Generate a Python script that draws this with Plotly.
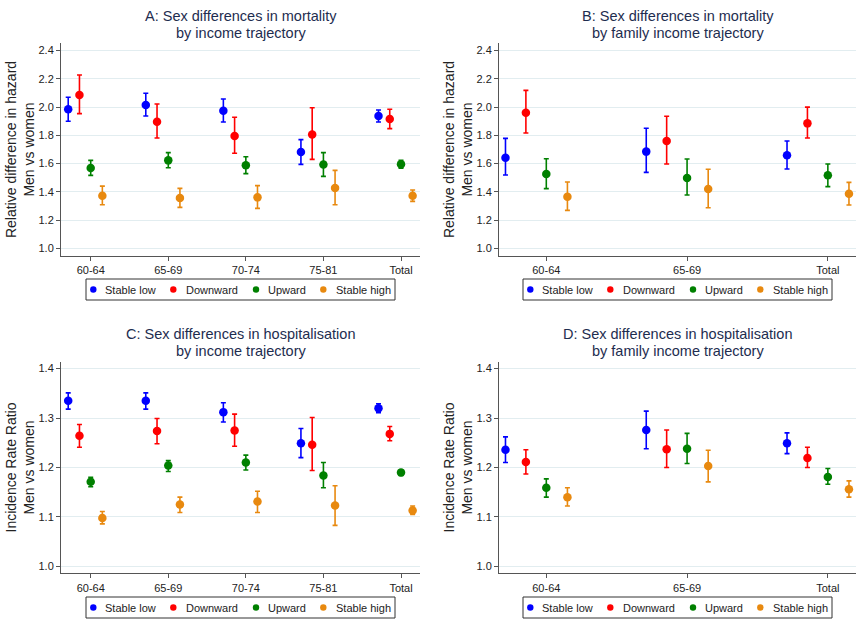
import plotly.graph_objects as go

# ---------------- data ----------------
series = ["Stable low", "Downward", "Upward", "Stable high"]
colors = ["#0000ff", "#ff0000", "#008000", "#e8890f"]
offsets = [-0.29, -0.145, 0.0, 0.15]

cats_income = ["60-64", "65-69", "70-74", "75-81", "Total"]
cats_family = ["60-64", "65-69", "Total"]

# Panel A: mortality by income trajectory (estimate, lower, upper)
A_est = {
    "Stable low":  [1.985, 2.015, 1.975, 1.682, 1.937],
    "Downward":    [2.086, 1.897, 1.796, 1.807, 1.916],
    "Upward":      [1.569, 1.623, 1.588, 1.593, 1.595],
    "Stable high": [1.373, 1.356, 1.361, 1.427, 1.373],
}
A_lo = {
    "Stable low":  [1.900, 1.937, 1.895, 1.595, 1.895],
    "Downward":    [1.954, 1.781, 1.673, 1.630, 1.848],
    "Upward":      [1.517, 1.571, 1.529, 1.510, 1.567],
    "Stable high": [1.309, 1.290, 1.283, 1.309, 1.333],
}
A_hi = {
    "Stable low":  [2.070, 2.098, 2.058, 1.770, 1.980],
    "Downward":    [2.228, 2.022, 1.928, 1.996, 1.985],
    "Upward":      [1.623, 1.678, 1.649, 1.678, 1.623],
    "Stable high": [1.441, 1.425, 1.444, 1.552, 1.413],
}

# Panel B: mortality by family income trajectory
B_est = {
    "Stable low":  [1.642, 1.685, 1.659],
    "Downward":    [1.961, 1.760, 1.885],
    "Upward":      [1.526, 1.498, 1.517],
    "Stable high": [1.366, 1.420, 1.387],
}
B_lo = {
    "Stable low":  [1.519, 1.538, 1.562],
    "Downward":    [1.817, 1.597, 1.781],
    "Upward":      [1.423, 1.378, 1.437],
    "Stable high": [1.269, 1.288, 1.307],
}
B_hi = {
    "Stable low":  [1.779, 1.850, 1.760],
    "Downward":    [2.119, 1.935, 2.000],
    "Upward":      [1.635, 1.633, 1.597],
    "Stable high": [1.470, 1.560, 1.467],
}

# Panel C: hospitalisation by income trajectory
C_est = {
    "Stable low":  [1.335, 1.335, 1.312, 1.249, 1.320],
    "Downward":    [1.264, 1.274, 1.275, 1.246, 1.268],
    "Upward":      [1.171, 1.204, 1.210, 1.184, 1.190],
    "Stable high": [1.098, 1.125, 1.131, 1.123, 1.113],
}
C_lo = {
    "Stable low":  [1.318, 1.318, 1.292, 1.220, 1.311],
    "Downward":    [1.241, 1.248, 1.243, 1.194, 1.254],
    "Upward":      [1.161, 1.192, 1.195, 1.159, 1.184],
    "Stable high": [1.086, 1.109, 1.109, 1.083, 1.105],
}
C_hi = {
    "Stable low":  [1.351, 1.351, 1.331, 1.279, 1.329],
    "Downward":    [1.287, 1.299, 1.308, 1.301, 1.283],
    "Upward":      [1.180, 1.214, 1.225, 1.210, 1.195],
    "Stable high": [1.111, 1.140, 1.152, 1.163, 1.122],
}

# Panel D: hospitalisation by family income trajectory
D_est = {
    "Stable low":  [1.236, 1.276, 1.249],
    "Downward":    [1.211, 1.237, 1.219],
    "Upward":      [1.159, 1.238, 1.181],
    "Stable high": [1.140, 1.203, 1.156],
}
D_lo = {
    "Stable low":  [1.210, 1.238, 1.228],
    "Downward":    [1.187, 1.200, 1.200],
    "Upward":      [1.140, 1.208, 1.166],
    "Stable high": [1.122, 1.171, 1.140],
}
D_hi = {
    "Stable low":  [1.262, 1.314, 1.270],
    "Downward":    [1.236, 1.276, 1.241],
    "Upward":      [1.177, 1.269, 1.198],
    "Stable high": [1.159, 1.235, 1.173],
}

title_lines = [
    ["A: Sex differences in mortality", "by income trajectory"],
    ["B: Sex differences in mortality", "by family income trajectory"],
    ["C: Sex differences in hospitalisation", "by income trajectory"],
    ["D: Sex differences in hospitalisation", "by family income trajectory"],
]
ytitles = [
    "Relative difference in hazard<br>Men vs women",
    "Relative difference in hazard<br>Men vs women",
    "Incidence Rate Ratio<br>Men vs women",
    "Incidence Rate Ratio<br>Men vs women",
]

# ---------------- layout geometry ----------------
W, H = 867, 627
FONT = "Liberation Sans, Arial, Helvetica, sans-serif"
TITLE_COLOR = "#1e2d4f"
GRID = "#e2edf0"
AXIS = "#555555"
TXT = "#222222"

panels = [
    dict(data=(A_est, A_lo, A_hi), cats=cats_income, xd=[61, 420], yd=[255.7, 43.3],
         xr=[-0.383, 4.245], yr=[0.948, 2.452], ticks=[1.0, 1.2, 1.4, 1.6, 1.8, 2.0, 2.2, 2.4],
         title_y=[16, 32.5], leg_y=[279, 300]),
    dict(data=(B_est, B_lo, B_hi), cats=cats_family, xd=[499, 856], yd=[255.7, 43.3],
         xr=[-0.336, 2.2], yr=[0.948, 2.452], ticks=[1.0, 1.2, 1.4, 1.6, 1.8, 2.0, 2.2, 2.4],
         title_y=[16, 32.5], leg_y=[279, 300]),
    dict(data=(C_est, C_lo, C_hi), cats=cats_income, xd=[61, 420], yd=[573.3, 361.7],
         xr=[-0.383, 4.245], yr=[0.986, 1.414], ticks=[1.0, 1.1, 1.2, 1.3, 1.4],
         title_y=[334, 350.5], leg_y=[597, 618]),
    dict(data=(D_est, D_lo, D_hi), cats=cats_family, xd=[499, 856], yd=[573.3, 361.7],
         xr=[-0.336, 2.2], yr=[0.986, 1.414], ticks=[1.0, 1.1, 1.2, 1.3, 1.4],
         title_y=[334, 350.5], leg_y=[597, 618]),
]

# legend key layout (pixel offsets from the legend box's left edge)
LEG_W = 309
LEG_DOT = [7.3, 87.3, 170.0, 237.3]
LEG_TXT = [16.7, 97.7, 179.7, 248.0]


def px(x):
    return x / W


def py(y):
    return 1 - y / H


fig = go.Figure()
layout = dict(
    width=W, height=H, margin=dict(l=0, r=0, t=0, b=0),
    paper_bgcolor="white", plot_bgcolor="white", showlegend=False,
    font=dict(family=FONT, size=11, color=TXT),
    annotations=[], shapes=[],
)

for p_i, p in enumerate(panels):
    est, lo, hi = p["data"]
    ax = "" if p_i == 0 else str(p_i + 1)
    xref, yref = "x" + ax, "y" + ax
    for s_i, s in enumerate(series):
        xs = [i + offsets[s_i] for i in range(len(p["cats"]))]
        ys = est[s]
        plus = [h - v for h, v in zip(hi[s], ys)]
        minus = [v - l for v, l in zip(ys, lo[s])]
        fig.add_trace(go.Scatter(
            x=xs, y=ys, mode="markers", name=s,
            xaxis=xref, yaxis=yref,
            marker=dict(color=colors[s_i], size=8.5),
            error_y=dict(type="data", symmetric=False, array=plus, arrayminus=minus,
                         color=colors[s_i], thickness=1.6, width=2.5),
        ))

    xa = dict(domain=[px(p["xd"][0]), px(p["xd"][1])], range=p["xr"], tickmode="array",
              tickvals=list(range(len(p["cats"]))), ticktext=p["cats"],
              showgrid=False, zeroline=False, showline=True, linecolor=AXIS, linewidth=1,
              ticks="outside", ticklen=4, tickcolor=AXIS, tickfont=dict(size=11, color=TXT),
              anchor=yref, fixedrange=True)
    ya = dict(domain=[py(p["yd"][0]), py(p["yd"][1])], range=p["yr"], tickmode="array",
              tickvals=p["ticks"], tickformat=".1f", showgrid=True, gridcolor=GRID, gridwidth=1,
              zeroline=False, showline=True, linecolor=AXIS, linewidth=1,
              ticks="outside", ticklen=4, tickcolor=AXIS, tickfont=dict(size=11, color=TXT),
              title=dict(text=ytitles[p_i], font=dict(size=14, color=TXT), standoff=0),
              anchor=xref, fixedrange=True, automargin=False)
    layout["xaxis" + ax] = xa
    layout["yaxis" + ax] = ya

    xc = (p["xd"][0] + p["xd"][1]) / 2
    # two-line panel title
    for line, ty in zip(title_lines[p_i], p["title_y"]):
        layout["annotations"].append(dict(
            text=line, x=px(xc), y=py(ty), xref="paper", yref="paper",
            xanchor="center", yanchor="middle", showarrow=False,
            font=dict(size=14.5, color=TITLE_COLOR, family=FONT),
        ))

    # legend box with keys
    lx0 = xc - LEG_W / 2
    ly0, ly1 = p["leg_y"]
    lyc = (ly0 + ly1) / 2
    layout["shapes"].append(dict(
        type="rect", xref="paper", yref="paper",
        x0=px(lx0), x1=px(lx0 + LEG_W), y0=py(ly1), y1=py(ly0),
        line=dict(color="#333333", width=1), fillcolor="white", layer="above",
    ))
    for s_i, s in enumerate(series):
        cx = lx0 + LEG_DOT[s_i]
        r = 3.2
        layout["shapes"].append(dict(
            type="circle", xref="paper", yref="paper",
            x0=px(cx - r), x1=px(cx + r), y0=py(lyc + r), y1=py(lyc - r),
            line=dict(width=0), fillcolor=colors[s_i], layer="above",
        ))
        layout["annotations"].append(dict(
            text=s, x=px(lx0 + LEG_TXT[s_i]), y=py(lyc), xref="paper", yref="paper",
            xanchor="left", yanchor="middle", showarrow=False,
            font=dict(size=11, color=TXT, family=FONT),
        ))

fig.update_layout(**layout)
fig.write_html("out.html", config={"displayModeBar": False},
               post_script="document.body.style.margin='0';")
